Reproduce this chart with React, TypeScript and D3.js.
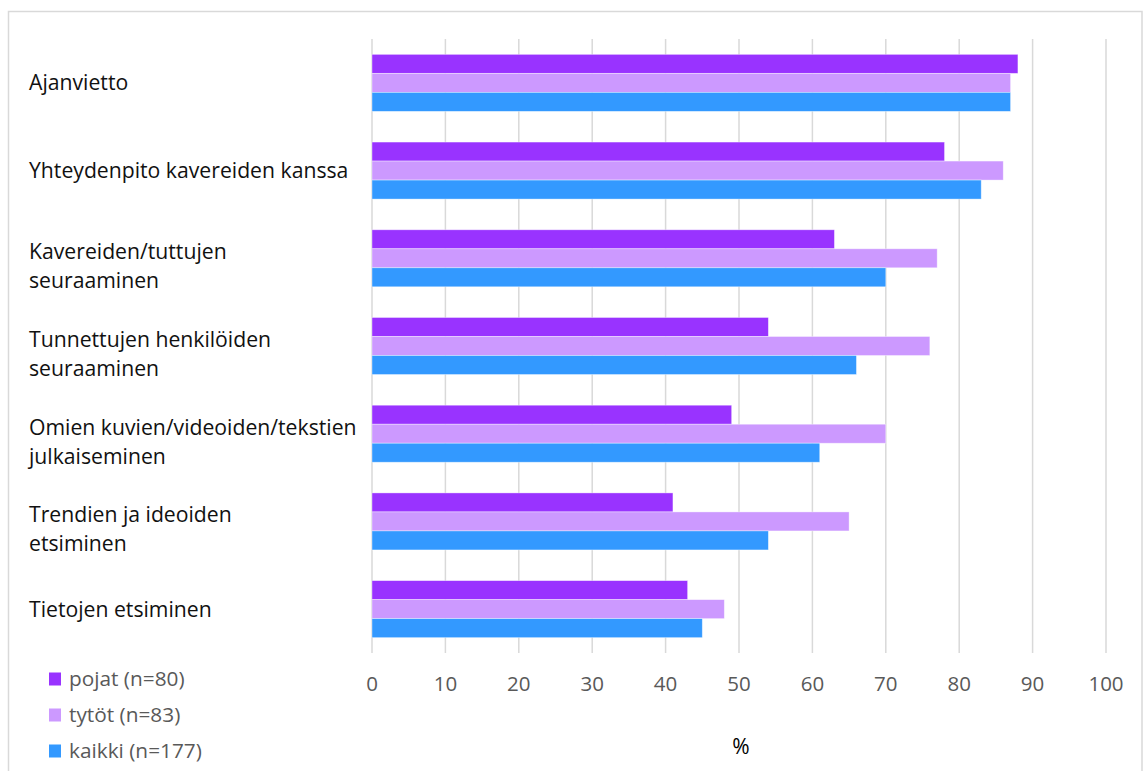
import React from "react";
import * as d3 from "d3";

const categories = [
  ["Ajanvietto"],
  ["Yhteydenpito kavereiden kanssa"],
  ["Kavereiden/tuttujen", "seuraaminen"],
  ["Tunnettujen henkilöiden", "seuraaminen"],
  ["Omien kuvien/videoiden/tekstien", "julkaiseminen"],
  ["Trendien ja ideoiden", "etsiminen"],
  ["Tietojen etsiminen"],
];
const seriesNames = ["pojat (n=80)", "tytöt (n=83)", "kaikki (n=177)"];
const pojat = [88, 78, 63, 54, 49, 41, 43];
const tytot = [87, 86, 77, 76, 70, 65, 48];
const kaikki = [87, 83, 70, 66, 61, 54, 45];
const colors = ["#9933FF", "#CC99FF", "#3399FF"];
const ticks = [0, 10, 20, 30, 40, 50, 60, 70, 80, 90, 100];

const W = 1143;
const H = 771;

export default function App() {
  const series = [pojat, tytot, kaikki];
  const x = d3.scaleLinear().domain([0, 100]).range([372, 1106]);
  const idx = categories.map((_, i) => String(i));
  const y = d3.scaleBand().domain(idx).range([39, 653]).paddingInner(0.35).paddingOuter(0.175);
  const inner = d3.scaleBand().domain(["0", "1", "2"]).range([0, y.bandwidth()]);
  const font = "'Open Sans', sans-serif";
  const catSize = 21.2;

  return (
    <div style={{ position: "absolute", left: 0, top: 0 }}>
      <svg width={W} height={H} style={{ display: "block" }}>
        <rect x={0} y={0} width={W} height={H} fill="#fff" />
        <rect x={8.5} y={11.5} width={1133.5} height={770} fill="none" stroke="#d9d9d9" strokeWidth={1.5} />
        {ticks.map((t) => (
          <line key={t} x1={x(t)} x2={x(t)} y1={39} y2={653} stroke="#d9d9d9" strokeWidth={1.5} />
        ))}
        {categories.map((c, i) =>
          series.map((s, j) => (
            <rect
              key={i + "-" + j}
              x={x(0)}
              y={(y(String(i)) as number) + (inner(String(j)) as number)}
              width={x(s[i]) - x(0)}
              height={inner.bandwidth()}
              fill={colors[j]}
              stroke="#fff"
              strokeOpacity={0.5}
              strokeWidth={0.75}
            />
          ))
        )}
        {categories.map((c, i) => {
          const cy = (y(String(i)) as number) + y.bandwidth() / 2;
          if (c.length === 1) {
            return (
              <text key={i} x={29} y={cy} dy="0.35em" fontFamily={font} fontSize={catSize} fill="#111">
                {c[0]}
              </text>
            );
          }
          return (
            <text key={i} x={29} fontFamily={font} fontSize={catSize} fill="#111">
              <tspan x={29} y={cy - 6.5} dy="0.35em">{c[0]}</tspan>
              <tspan x={29} y={cy + 22.5} dy="0.35em">{c[1]}</tspan>
            </text>
          );
        })}
        {ticks.map((t) => (
          <text key={"t" + t} x={x(t)} y={684} dy="0.35em" textAnchor="middle" fontFamily={font} fontSize={20.5} fill="#595959">
            {t}
          </text>
        ))}
        <text x={741} y={747} dy="0.35em" textAnchor="middle" fontFamily={font} fontSize={21} fill="#000">
          %
        </text>
        {seriesNames.map((n, j) => (
          <g key={n} transform={`translate(0, ${679 + j * 36})`}>
            <rect x={49} y={-6.5} width={12} height={13} fill={colors[j]} />
            <text x={69} y={0} dy="0.35em" fontFamily={font} fontSize={20.8} fill="#595959">
              {n}
            </text>
          </g>
        ))}
      </svg>
    </div>
  );
}
